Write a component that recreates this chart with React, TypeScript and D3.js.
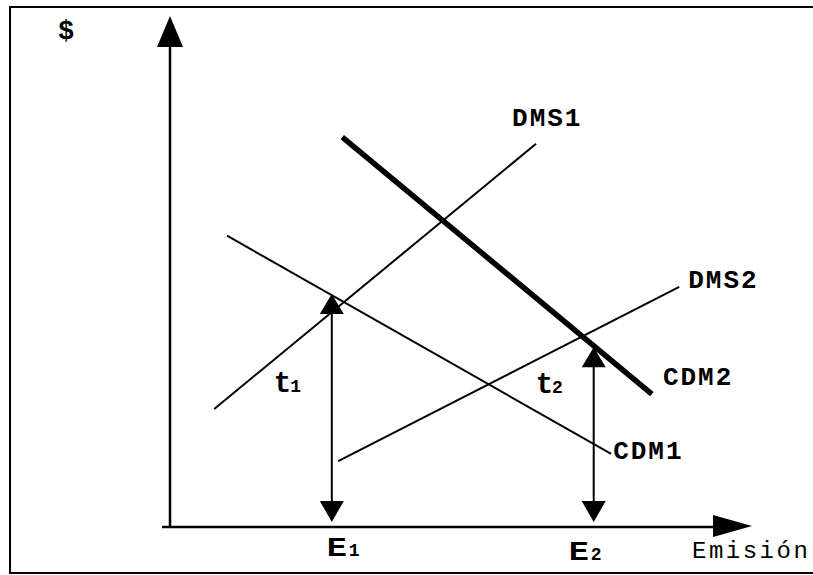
import React, { useEffect, useRef } from 'react';
import * as d3 from 'd3';

// schematic values, in axis units (0..100 on both axes)
const curveNames = ['DMS1', 'CDM1', 'DMS2', 'CDM2'];
const curveStart = [[7.6, 23.1], [9.8, 57.0], [28.9, 12.9], [29.6, 76.3]];
const curveEnd = [[62.9, 75.0], [75.8, 14.3], [87.5, 47.0], [82.8, 26.0]];
const curveHeavy = [false, false, false, true];

const emissionNames = ['1', '2'];
const emissionX = [27.8, 72.8];
const taxTop = [45.6, 35.2];
const taxNames = ['1', '2'];

const W = 813, H = 575;
const FONT = "'Liberation Mono', 'Courier New', monospace";

export default function App() {
    const ref = useRef(null);

    useEffect(() => {
        document.body.style.margin = '0';
        const svg = d3.select(ref.current);
        svg.selectAll('*').remove();

        const x = d3.scaleLinear().domain([0, 100]).range([170, 752]);
        const y = d3.scaleLinear().domain([0, 100]).range([527, 16]);

        // frame (open on the right)
        svg.append('path')
            .attr('d', 'M' + (W + 5) + ',7 H10 V573 H' + (W + 5))
            .attr('fill', 'none')
            .attr('stroke', '#000')
            .attr('stroke-width', 2);

        const tri = (tipX, tipY, dx, dy, len, half) => {
            // dx,dy: unit direction the arrow points to
            const bx = tipX - dx * len, by = tipY - dy * len;
            const px = -dy * half, py = dx * half;
            return 'M' + tipX + ',' + tipY + 'L' + (bx + px) + ',' + (by + py) + 'L' + (bx - px) + ',' + (by - py) + 'Z';
        };

        // axes
        svg.append('line')
            .attr('x1', x(0)).attr('y1', y(0)).attr('x2', x(0)).attr('y2', y(100) + 25)
            .attr('stroke', '#000').attr('stroke-width', 2.5);
        svg.append('path').attr('d', tri(x(0), y(100), 0, -1, 31, 13)).attr('fill', '#000');
        svg.append('line')
            .attr('x1', x(0) - 8).attr('y1', y(0)).attr('x2', x(100) - 30).attr('y2', y(0))
            .attr('stroke', '#000').attr('stroke-width', 2.5);
        svg.append('path').attr('d', tri(x(100), y(0) - 1, 1, 0, 39, 11)).attr('fill', '#000');

        // curves
        curveNames.forEach((name, i) => {
            svg.append('line')
                .attr('x1', x(curveStart[i][0])).attr('y1', y(curveStart[i][1]))
                .attr('x2', x(curveEnd[i][0])).attr('y2', y(curveEnd[i][1]))
                .attr('stroke', '#000')
                .attr('stroke-width', curveHeavy[i] ? 5.5 : 2);
        });

        // curve labels, placed next to the end of each curve
        const labelOffset = { DMS1: [-24, -18], CDM1: [2, 5], DMS2: [9, 1], CDM2: [11, -9] };
        curveNames.forEach((name, i) => {
            svg.append('text')
                .attr('x', x(curveEnd[i][0]) + labelOffset[name][0])
                .attr('y', y(curveEnd[i][1]) + labelOffset[name][1])
                .attr('font-family', FONT)
                .attr('font-weight', 'bold')
                .attr('font-size', 26)
                .attr('letter-spacing', 2)
                .text(name);
        });

        // tax arrows between emission level and the curves
        emissionX.forEach((e, i) => {
            const cx = x(e);
            svg.append('line')
                .attr('x1', cx).attr('y1', y(taxTop[i]) + 15).attr('x2', cx).attr('y2', y(0) - 20)
                .attr('stroke', '#000').attr('stroke-width', 2);
            svg.append('path').attr('d', tri(cx, y(taxTop[i]), 0, -1, 20, 12)).attr('fill', '#000');
            svg.append('path').attr('d', tri(cx, y(0) - 5, 0, 1, 21, 12)).attr('fill', '#000');

            const t = svg.append('text')
                .attr('x', cx - 58).attr('y', y(taxTop[i]) + (i === 0 ? 98 : 46))
                .attr('font-family', FONT).attr('font-weight', 'bold');
            t.append('tspan').attr('font-size', 29).text('t');
            t.append('tspan').attr('font-size', 18).attr('dx', -1).text(taxNames[i]);

            // E label: wide capital, smaller index beside it
            const ex = cx + (i === 0 ? -5 : -25), ey = i === 0 ? 556 : 560;
            svg.append('text')
                .attr('transform', 'translate(' + ex + ',' + ey + ') scale(1.2,1)')
                .attr('font-family', FONT).attr('font-weight', 'bold').attr('font-size', 28)
                .text('E');
            svg.append('text')
                .attr('x', ex + 22).attr('y', ey)
                .attr('font-family', FONT).attr('font-weight', 'bold').attr('font-size', 18)
                .text(emissionNames[i]);
        });

        // axis titles
        svg.append('text')
            .attr('x', 58).attr('y', 39)
            .attr('font-family', FONT).attr('font-weight', 'bold').attr('font-size', 27)
            .text('$');
        svg.append('text')
            .attr('x', 692).attr('y', 558)
            .attr('font-family', FONT).attr('font-size', 24).attr('letter-spacing', 2.5)
            .text('Emisión');
    }, []);

    return (
        <svg ref={ref} width={W} height={H} style={{ display: 'block', background: '#fff' }} />
    );
}
